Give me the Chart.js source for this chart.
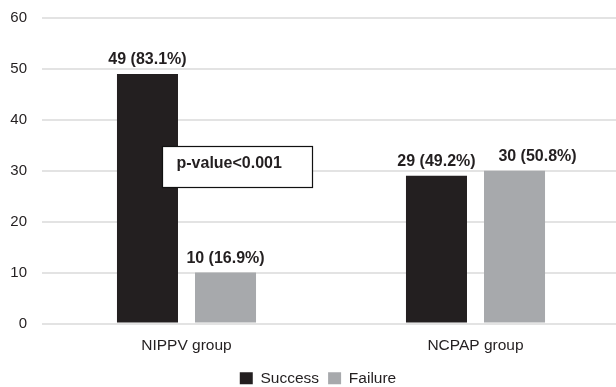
<!DOCTYPE html>
<html>
<head>
<meta charset="utf-8">
<script src="https://cdn.jsdelivr.net/npm/chart.js@4/dist/chart.umd.min.js"></script>
<style>
  html, body { margin: 0; padding: 0; background: #fff; overflow: hidden; }
  #wrap { width: 620px; height: 387px; }
</style>
</head>
<body>
<div id="wrap"><canvas id="c" width="620" height="387"></canvas></div>
<script>
// Ventilation outcome by group
const groups = ['NIPPV group', 'NCPAP group'];
const successCounts = [49, 29];
const failureCounts = [10, 30];
const successPct = [83.1, 49.2];
const failurePct = [16.9, 50.8];
const yTicks = [0, 10, 20, 30, 40, 50, 60];
const pValueText = 'p-value<0.001';

const FONT = '"Liberation Sans", Arial, Helvetica, sans-serif';
const INK = '#231f20';

// Bold "n (x%)" labels above every bar; a label that would collide with
// its neighbour is nudged sideways.
const barLabels = {
  id: 'barLabels',
  afterDatasetsDraw(chart, args, opts) {
    const ctx = chart.ctx;
    const nudge = opts.nudge || {};
    ctx.save();
    ctx.font = 'bold 16px ' + FONT;
    ctx.fillStyle = INK;
    ctx.textAlign = 'center';
    ctx.textBaseline = 'alphabetic';
    chart.data.datasets.forEach((ds, di) => {
      chart.getDatasetMeta(di).data.forEach((bar, i) => {
        const txt = ds.data[i] + ' (' + ds.pct[i].toFixed(1) + '%)';
        const dx = nudge[di + ':' + i] || 0;
        ctx.fillText(txt, bar.x + dx, bar.y - 10);
      });
    });
    ctx.restore();
  }
};

// Boxed significance note
const pValueBox = {
  id: 'pValueBox',
  afterDatasetsDraw(chart) {
    const ctx = chart.ctx;
    const xs = chart.scales.x, ys = chart.scales.y;
    const cx = xs.getPixelForValue(0);
    const left = Math.round(cx - 24.5) + 0.5;
    const right = Math.round(cx + 125.5) + 0.5;
    const top = Math.round(ys.getPixelForValue(34.8)) + 0.5;
    const bottom = Math.round(ys.getPixelForValue(26.8)) + 0.5;
    ctx.save();
    ctx.fillStyle = '#ffffff';
    ctx.fillRect(left, top, right - left, bottom - top);
    ctx.strokeStyle = '#111';
    ctx.lineWidth = 1.2;
    ctx.strokeRect(left, top, right - left, bottom - top);
    ctx.font = 'bold 16px ' + FONT;
    ctx.fillStyle = INK;
    ctx.textAlign = 'left';
    ctx.textBaseline = 'middle';
    ctx.fillText(pValueText, left + 14, top + 17);
    ctx.restore();
  }
};

// Centre the legend under the plot rather than the full canvas
const legendShift = {
  id: 'legendShift',
  afterLayout(chart) {
    const lg = chart.legend;
    if (lg) { lg.left += 8; lg.right += 8; }
  }
};

new Chart(document.getElementById('c'), {
  type: 'bar',
  data: {
    labels: groups,
    datasets: [
      { label: 'Success', data: successCounts, pct: successPct, backgroundColor: '#231f20', borderWidth: 0 },
      { label: 'Failure', data: failureCounts, pct: failurePct, backgroundColor: '#a7a9ac', borderWidth: 0 }
    ]
  },
  options: {
    responsive: false,
    animation: false,
    devicePixelRatio: 1,
    categoryPercentage: 0.54,
    barPercentage: 0.782,
    layout: { padding: { top: 18, right: 0, left: 0, bottom: -9 } },
    plugins: {
      legend: {
        position: 'bottom',
        labels: {
          boxWidth: 13,
          boxHeight: 12,
          padding: 9,
          color: INK,
          font: { family: FONT, size: 15.5 }
        }
      },
      tooltip: { enabled: false },
      barLabels: { nudge: { '1:1': 23 } }
    },
    scales: {
      x: {
        grid: { display: false, drawTicks: false },
        border: { display: false },
        ticks: { color: INK, padding: 13, font: { family: FONT, size: 15.5 } },
        afterFit(s) { s.height = 38; }
      },
      y: {
        min: 0,
        max: 60,
        afterBuildTicks(s) { s.ticks = yTicks.map(v => ({ value: v })); },
        grid: { color: '#e3e3e3', lineWidth: 2, drawTicks: false },
        border: { display: false },
        ticks: { color: INK, padding: 15, font: { family: FONT, size: 15 } },
        afterFit(s) { s.width = 42; s.paddingTop = 0; s.paddingBottom = 0; }
      }
    }
  },
  plugins: [barLabels, pValueBox, legendShift]
});
</script>
</body>
</html>
